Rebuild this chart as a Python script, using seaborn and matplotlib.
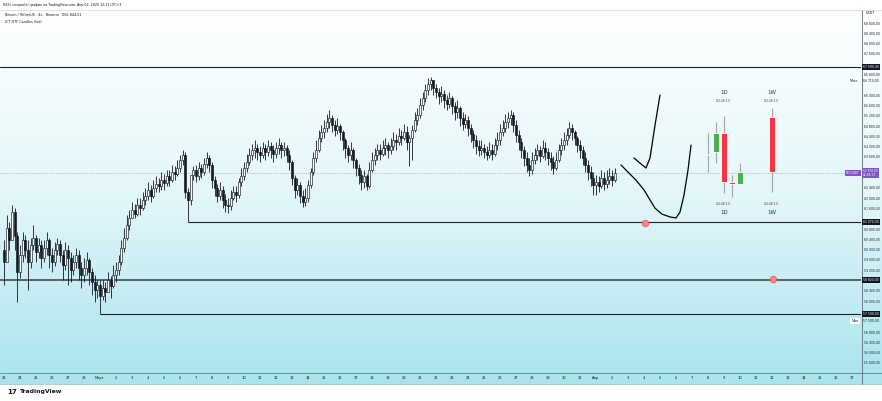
import numpy as np
import pandas as pd
import matplotlib
matplotlib.use("Agg")
import matplotlib.pyplot as plt
import seaborn as sns
from matplotlib.lines import Line2D
from matplotlib.transforms import blended_transform_factory
from matplotlib.colors import LinearSegmentedColormap

sns.set_theme(style="white")
plt.rcParams['font.family'] = ['DejaVu Sans']

# ---------------- data (4h candles, x = days from 1 March) ----------------
first_open = 59990
start_day = -6            # 23 Feb
candle_step = 1 / 6       # 4 hours

closes = [
    59520, 60840, 60370, 61460, 60530, 59130,
    59790, 60370, 59990, 59520, 60180, 60450,
    59910, 60180, 59670, 60060, 60370, 59790,
    59520, 59990, 60210, 59790, 59400, 59990,
    59670, 59210, 59520, 59790, 59280, 59010,
    59280, 59600, 59130, 58740, 58430, 58630,
    58200, 58510, 58350, 58820, 58590, 59010,
    59210, 59520, 60060, 60450, 60960, 61220,
    61540, 61380, 61730, 61610, 61930, 62080,
    62320, 62080, 62390, 62550, 62470, 62700,
    62580, 62860, 62700, 63010, 62940, 63170,
    63480, 63670, 62240, 61930, 62900, 63090,
    62860, 63170, 63010, 63330, 63560, 63290,
    62700, 62390, 62080, 62320, 61930, 61730,
    61690, 62000, 62240, 62120, 62620, 62860,
    63170, 63400, 63670, 63870, 63950, 63790,
    63670, 63950, 63790, 64020, 63870, 63710,
    63950, 64060, 63870, 63950, 63670, 63400,
    62780, 62320, 62510, 62080, 61850, 62000,
    62510, 63010, 63560, 63870, 64340, 64570,
    64730, 64950, 65110, 64840, 64650, 64800,
    64570, 64260, 63950, 63670, 63870, 63480,
    63170, 62900, 62620, 62860, 62470, 63090,
    63480, 63670, 63870, 63710, 63950, 64060,
    63870, 64020, 64260, 64180, 64410, 64340,
    64570, 64180, 64340, 64650, 65030, 65230,
    65620, 65890, 66200, 66430, 66590, 66280,
    66120, 65960, 66040, 65810, 65660, 65890,
    65580, 65340, 65500, 65110, 64880, 65030,
    64730, 64490, 64260, 64020, 63870, 63950,
    63790, 63670, 63870, 63710, 64060, 64260,
    64570, 64730, 64950, 65110, 65230, 64840,
    64450, 64180, 63870, 63560, 63290, 63090,
    63480, 63670, 63870, 63630, 63950, 63790,
    63560, 63400, 63170, 63480, 63870, 64060,
    64260, 64450, 64730, 64570, 64340, 64060,
    63870, 63560, 63290, 63010, 62780, 62510,
    62620, 62470, 62780, 62550, 62700, 62860,
    62700, 62970,
]
highs = [
    60370, 61340, 61070, 61730, 61610, 60680,
    60180, 60680, 60570, 60370, 60450, 60960,
    60570, 60450, 60370, 60370, 60680, 60450,
    60060, 60290, 60450, 60370, 59990, 60290,
    60180, 59910, 59790, 60060, 59990, 59520,
    59670, 59910, 59670, 59280, 59010, 58820,
    58820, 58820, 58740, 59130, 58970, 59400,
    59520, 59790, 60370, 60840, 61340, 61540,
    61850, 61770, 62000, 62000, 62240, 62390,
    62620, 62510, 62700, 62860, 62780, 63010,
    62940, 63090, 63090, 63290, 63250, 63480,
    63670, 63870, 63790, 62390, 62700, 63250,
    63290, 63400, 63330, 63560, 63790, 63670,
    63400, 62860, 62550, 62620, 62470, 62160,
    62000, 62320, 62470, 62470, 62780, 63170,
    63400, 63710, 63950, 64100, 64260, 64100,
    64020, 64180, 64100, 64260, 64180, 64060,
    64180, 64340, 64180, 64180, 64060, 63870,
    63480, 62900, 62780, 62620, 62320, 62390,
    62700, 63170, 63790, 64260, 64650, 64840,
    65030, 65270, 65420, 65230, 65030, 65110,
    64880, 64650, 64340, 64060, 64180, 63950,
    63560, 63330, 63090, 63090, 62940, 63400,
    63790, 63950, 64100, 64100, 64260, 64340,
    64180, 64340, 64570, 64490, 64730, 64650,
    64880, 64800, 64450, 64840, 65340, 65500,
    65890, 66120, 66430, 66670, 66710, 66590,
    66430, 66280, 66350, 66200, 66000, 66120,
    65960, 65730, 65810, 65580, 65340, 65270,
    65190, 64880, 64650, 64450, 64260, 64260,
    64100, 64020, 64180, 64100, 64340, 64570,
    64880, 65030, 65270, 65340, 65420, 65340,
    65030, 64650, 64340, 64020, 63790, 63560,
    63790, 63950, 64100, 64020, 64260, 64180,
    63950, 63790, 63630, 63790, 64100, 64340,
    64570, 64730, 64950, 64880, 64650, 64410,
    64260, 64020, 63790, 63480, 63250, 63010,
    62900, 62860, 63090, 63010, 63090, 63170,
    63090, 63170,
]
lows = [
    58630, 59520, 59990, 60370, 59990, 57960,
    58890, 59520, 59670, 58430, 59280, 59990,
    59520, 59670, 59280, 59520, 59790, 59280,
    59130, 59360, 59790, 59520, 58820, 59210,
    58630, 58740, 59010, 59280, 58820, 58510,
    58740, 59010, 58630, 58240, 57960, 58120,
    57500, 58040, 57960, 58350, 58120, 58510,
    58740, 59010, 59400, 59910, 60370, 60760,
    61230, 61230, 61300, 61340, 61540, 61730,
    61930, 61850, 62000, 62240, 62240, 62320,
    62320, 62470, 62470, 62620, 62700, 62860,
    63010, 63290, 62000, 61070, 61730, 62700,
    62620, 62700, 62780, 62900, 63170, 63010,
    62390, 62080, 61850, 61930, 61610, 61460,
    61420, 61540, 61930, 61850, 62000, 62470,
    62700, 63010, 63290, 63480, 63560, 63480,
    63400, 63560, 63480, 63630, 63560, 63400,
    63560, 63710, 63560, 63630, 63400, 63090,
    62510, 62000, 62120, 61810, 61650, 61690,
    61850, 62390, 62900, 63400, 63790, 64180,
    64340, 64570, 64730, 64570, 64410, 64490,
    64260, 63870, 63560, 63400, 63480, 63170,
    62860, 62550, 62320, 62390, 62320, 62390,
    63010, 63290, 63480, 63480, 63630, 63670,
    63560, 63710, 63870, 63870, 64060, 64060,
    64260, 63870, 63250, 63480, 64570, 64840,
    65110, 65420, 65730, 66000, 66200, 66000,
    65890, 65660, 65730, 65500, 65420, 65500,
    65270, 65030, 65110, 64800, 64650, 64730,
    64410, 64180, 63950, 63710, 63630, 63670,
    63560, 63480, 63560, 63480, 63630, 63870,
    64060, 64410, 64570, 64730, 64840, 64570,
    64180, 63870, 63560, 63250, 63010, 62860,
    62940, 63330, 63480, 63400, 63560, 63480,
    63290, 63090, 62940, 63090, 63400, 63670,
    63870, 64060, 64340, 64260, 64060, 63790,
    63560, 63290, 63010, 62700, 62470, 62120,
    62120, 62240, 62390, 62320, 62390, 62550,
    62470, 62620,
]

# HTF candles (ICT HTF Candles)
htf_d_t = [38, 38.5, 39, 39.5, 40]
htf_d_open = [63670, 63790, 64530, 62620, 62550]
htf_d_close = [63710, 64530, 62620, 62550, 63010]
htf_d_high = [64530, 64950, 65190, 62900, 63360]
htf_d_low = [63010, 63360, 62200, 62040, 62550]
htf_w_t = [42]
htf_w_open = [65150]
htf_w_close = [63010]
htf_w_high = [65500]
htf_w_low = [62240]

# hand-drawn projection strokes
stroke_a_t = [33.375, 33.75, 34.125, 34.375, 34.69, 35.0]
stroke_a_p = [63560, 63360, 63170, 63560, 64840, 66000]
stroke_b_t = [32.56, 33.0, 33.5, 34.0, 34.375, 34.69, 35.125, 35.625, 36.0, 36.25, 36.5, 36.75, 36.94]
stroke_b_p = [63290, 63010, 62700, 62320, 61930, 61610, 61380, 61270, 61230, 61460, 62120, 63090, 64060]

# red target dots
dot_t = [34.06, 42.06]
dot_p = [61030, 58860]

# horizontal levels
level_top = 67090
level_mid = 61070
level_mid_start = 5.5
level_gray = 58820
level_low = 57500
level_low_start = 0.0
price_max = 66710
price_now = 62970

date_ticks = list(range(-6, 48))
date_labels = (["23", "24", "25", "26", "27", "28", "Март"] + [str(i) for i in range(2, 32)]
               + ["Апр"] + [str(i) for i in range(2, 18)])
price_ticks = list(range(68800, 55599, -400))


def fmt(v):
    return f"{v:,.2f}".replace(",", " ").replace(".", ",")


# ---------------- figure ----------------
W, H = 882, 401
fig = plt.figure(figsize=(W / 100, H / 100), dpi=100)
fig.patch.set_facecolor("white")


def fy(py):
    return 1 - py / H


# gradient background (chart + axes strips)
bg = fig.add_axes([0, fy(384), 1, (384 - 10) / H], zorder=0)
cmap = LinearSegmentedColormap.from_list("tvbg", ["#ffffff", "#e3f6f9", "#a9e4ed"])
grad = np.linspace(0, 1, 256).reshape(-1, 1)
bg.imshow(grad, cmap=cmap, aspect="auto", extent=[0, 1, 0, 1], origin="upper")
bg.set_axis_off()

ax = fig.add_axes([0, fy(372), 861 / W, (372 - 10) / H], zorder=2)
ax.set_facecolor("none")
for s in ax.spines.values():
    s.set_visible(False)
ax.set_xlim(-6.25, 47.5625)
ax.set_ylim(55250, 69305)
px_price = (69305 - 55250) / 362.0   # price units per pixel

# candles
n = len(closes)
t = start_day + np.arange(n) * candle_step
c = np.array(closes, float)
o = np.r_[first_open, c[:-1]]
h = np.maximum(np.array(highs, float), np.maximum(o, c))
l = np.minimum(np.array(lows, float), np.minimum(o, c))
up = c >= o
ax.vlines(t, l, h, color="#131722", lw=0.6, zorder=3)
bw = 0.135
ax.bar(t[up], (c - o)[up], bottom=o[up], width=bw, color="white", edgecolor="#131722", lw=0.45, zorder=4)
ax.bar(t[~up], (c - o)[~up], bottom=o[~up], width=bw, color="#131722", edgecolor="#131722", lw=0.45, zorder=4)

# levels
ax.axhline(level_top, color="#1e222d", lw=0.8, zorder=2)
ax.hlines(level_mid, level_mid_start, 47.5625, color="#1e222d", lw=0.8, zorder=2)
ax.axhline(level_gray, color="#4f575d", lw=1.3, zorder=2)
ax.hlines(level_low, level_low_start, 47.5625, color="#1e222d", lw=0.8, zorder=2)
ax.axhline(price_now, color="#9d86d6", lw=0.5, ls=(0, (1, 1.5)), zorder=2)


# HTF candles
def htf(tt, op, cl, hi, lo):
    tt = np.array(tt, float); op = np.array(op, float); cl = np.array(cl, float)
    ax.vlines(tt, lo, hi, color="#a0a4a8", lw=0.8, zorder=5)
    cols = np.where(cl >= op, "#4caf50", "#f23645")
    hgt = cl - op
    hgt = np.where(np.abs(hgt) < 60, np.sign(hgt + 1e-9) * 60, hgt)
    ax.bar(tt, hgt, bottom=op, width=0.375, color=cols, edgecolor="white", lw=0.6, zorder=6)


htf(htf_d_t, htf_d_open, htf_d_close, htf_d_high, htf_d_low)
htf(htf_w_t, htf_w_open, htf_w_close, htf_w_high, htf_w_low)

tr = blended_transform_factory(ax.transData, ax.transAxes)
for lab, xx in [("1D", 39.0), ("1W", 42.0)]:
    ax.text(xx, (372 - 92) / 362, lab, transform=tr, ha="center", va="center", fontsize=4, color="#363a45")
    ax.text(xx, (372 - 101) / 362, "(14:48:13)", transform=tr, ha="center", va="center", fontsize=2.2, color="#50535e")
    ax.text(xx, (372 - 204) / 362, "(14:48:13)", transform=tr, ha="center", va="center", fontsize=2.2, color="#50535e")
    ax.text(xx, (372 - 213) / 362, lab, transform=tr, ha="center", va="center", fontsize=4, color="#363a45")

# strokes and dots with seaborn
sa = pd.DataFrame({"t": stroke_a_t, "p": stroke_a_p})
sb = pd.DataFrame({"t": stroke_b_t, "p": stroke_b_p})
sns.lineplot(data=sa, x="t", y="p", sort=False, estimator=None, color="black", lw=0.9, ax=ax, zorder=7)
sns.lineplot(data=sb, x="t", y="p", sort=False, estimator=None, color="black", lw=0.9, ax=ax, zorder=7)
dots = pd.DataFrame({"t": dot_t, "p": dot_p})
sns.scatterplot(data=dots, x="t", y="p", s=22, color="#f08a84", edgecolor="#e5534b", linewidth=0.5, ax=ax, zorder=8)

# axes ticks
ax.set_xlabel(""); ax.set_ylabel("")
ax.set_xticks(date_ticks)
ax.set_xticklabels(date_labels)
ax.tick_params(axis="x", length=0, pad=2.6, labelsize=2.6, labelcolor="#131722")
ax.yaxis.tick_right()
ax.set_yticks(price_ticks)
# hide scale labels that would sit under a price-label box (as TradingView does)
min_val_pos = level_low - 6.7 * px_price
max_val_pos = price_max - 4.2 * px_price
boxes = [level_top, level_mid, level_gray, level_low, price_now, min_val_pos, max_val_pos]
ylabels = [fmt(v) if min(abs(v - b) for b in boxes) > 6.5 * px_price else "" for v in price_ticks]
ax.set_yticklabels(ylabels)
ax.tick_params(axis="y", length=0, pad=2.0, labelsize=2.2, labelcolor="#131722")
ax.grid(False)

# axis labels for levels
tra = blended_transform_factory(ax.transAxes, ax.transData)
for v in [level_top, level_mid, level_gray, level_low]:
    ax.text(1.0025, v, fmt(v), transform=tra, ha="left", va="center", fontsize=2.2, color="white",
            bbox=dict(boxstyle="square,pad=0.35", fc="#131722", ec="none"), clip_on=False, zorder=10)
ax.text(1.0025, price_now, fmt(price_now) + "\n02:48:13", transform=tra, ha="left", va="center",
        fontsize=2.1, color="white", linespacing=1.1,
        bbox=dict(boxstyle="square,pad=0.35", fc="#7e57c2", ec="none"), clip_on=False, zorder=10)
ax.text(0.9985, price_now, "BTCUSDT", transform=tra, ha="right", va="center", fontsize=2.2, color="white",
        bbox=dict(boxstyle="square,pad=0.35", fc="#7e57c2", ec="none"), clip_on=False, zorder=10)
ax.text(0.998, max_val_pos, "Макс.", transform=tra, ha="right", va="center", fontsize=2.3, color="#131722",
        bbox=dict(boxstyle="square,pad=0.35", fc="white", ec="none"), zorder=10)
ax.text(1.0025, max_val_pos, fmt(price_max), transform=tra, ha="left", va="center", fontsize=2.2,
        color="#131722", clip_on=False, zorder=10)
ax.text(0.998, min_val_pos, "Мин.", transform=tra, ha="right", va="center", fontsize=2.3, color="#131722",
        bbox=dict(boxstyle="square,pad=0.35", fc="white", ec="none"), zorder=10)
ax.text(1.0025, min_val_pos, fmt(level_low), transform=tra, ha="left", va="center", fontsize=2.2,
        color="#131722", clip_on=False, zorder=10)
fig.text(870 / W, fy(13), "USDT", ha="center", va="center", fontsize=2.4, color="#131722")

# separators / frame
fig.add_artist(Line2D([0, 1], [fy(372.5), fy(372.5)], color="#6f7c82", lw=0.6))
fig.add_artist(Line2D([0, 1], [fy(384), fy(384)], color="#9ab8bd", lw=0.5))
fig.add_artist(Line2D([861.5 / W, 861.5 / W], [fy(10), fy(384)], color="#5f6b70", lw=0.6))
fig.add_artist(Line2D([0, 1], [fy(9.5), fy(9.5)], color="#c8cdd0", lw=0.4))

# header texts
fig.text(3 / W, fy(5), "NKYL создал(а) график на TradingView.com, Апр 02, 2025 12:11 UTC+3",
         ha="left", va="center", fontsize=2.3, color="#131722")
fig.text(5 / W, fy(15), "Bitcoin / TetherUS · 4ч · Binance  О62 844,01",
         ha="left", va="center", fontsize=2.4, color="#131722")
fig.text(5 / W, fy(22), "ICT HTF Candles (fxd)", ha="left", va="center", fontsize=2.4, color="#131722")

# footer logo
fig.text(7 / W, fy(392), "17", ha="left", va="center", fontsize=5, fontweight="bold", color="#131722")
fig.text(20 / W, fy(392), "TradingView", ha="left", va="center", fontsize=4.4, fontweight="semibold", color="#131722")

fig.savefig("out.png", dpi=100, facecolor="white")
